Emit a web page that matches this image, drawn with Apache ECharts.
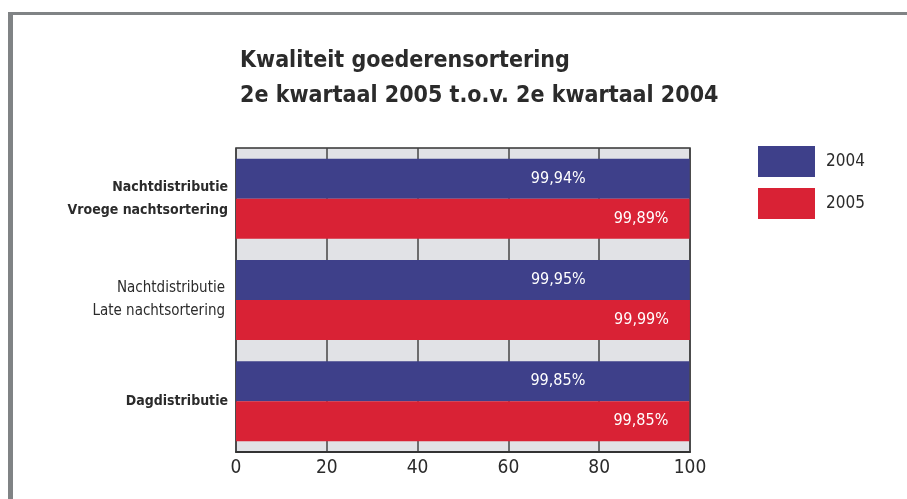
<!DOCTYPE html>
<html>
<head>
<meta charset="utf-8">
<script src="https://cdn.jsdelivr.net/npm/echarts@6/dist/echarts.min.js"></script>
<style>
html,body{margin:0;padding:0;background:#fff;}
#c{width:907px;height:499px;}
</style>
</head>
<body>
<div id="c"></div>
<script>
var categories = ['Nachtdistributie\nVroege nachtsortering', 'Nachtdistributie\nLate nachtsortering', 'Dagdistributie'];
var boldCategory = [true, false, true];
var series2004 = [99.94, 99.95, 99.85];
var series2005 = [99.89, 99.99, 99.85];
var seriesNames = ['2004', '2005'];
var xTicks = [0, 20, 40, 60, 80, 100];

var FONT = '"Liberation Sans Narrow", "DejaVu Sans Condensed", "Liberation Sans", sans-serif';
var chart = echarts.init(document.getElementById('c'), null, {renderer: 'canvas'});
function fmt(v) { return v.toFixed(2).replace('.', ',') + '%'; }
chart.setOption({
  animation: false,
  backgroundColor: '#fff',
  title: {
    text: 'Kwaliteit goederensortering\n2e kwartaal 2005 t.o.v. 2e kwartaal 2004',
    left: 235, top: 39,
    textStyle: {fontFamily: FONT, fontWeight: 'bold', fontSize: 23, lineHeight: 35, color: '#2b2b2b'}
  },
  graphic: [
    {type: 'rect', shape: {x: 8, y: 12, width: 899, height: 3}, style: {fill: '#808385'}},
    {type: 'rect', shape: {x: 8, y: 12, width: 5, height: 487}, style: {fill: '#808385'}}
  ],
  legend: {
    orient: 'vertical', left: 758, top: 146, padding: 0,
    itemWidth: 57, itemHeight: 31, itemGap: 11,
    icon: 'rect',
    textStyle: {fontFamily: FONT, fontSize: 17, color: '#2b2b2b', padding: [0, 0, 0, 6]},
    data: seriesNames
  },
  grid: {
    left: 236, right: 217, top: 148, bottom: 47,
    show: true, backgroundColor: '#e1e2e6', borderColor: '#333', borderWidth: 1.5,
    containLabel: false
  },
  xAxis: {
    type: 'value', min: 0, max: 100, interval: 20,
    axisLine: {show: true, lineStyle: {color: '#333', width: 2}},
    axisTick: {show: false},
    splitLine: {show: true, lineStyle: {color: '#444', width: 1.5}},
    axisLabel: {fontFamily: FONT, fontSize: 19, color: '#2b2b2b', margin: 7,
      formatter: function (v) { return xTicks.indexOf(v) >= 0 ? String(v) : ''; }}
  },
  yAxis: {
    type: 'category', inverse: true, data: categories,
    axisLine: {show: false}, axisTick: {show: false}, splitLine: {show: false},
    axisLabel: {
      margin: 8,
      formatter: function (v, i) {
        var st = boldCategory[i] ? 'b' : 'n';
        return v.split('\n').map(function (s) { return '{' + st + '|' + s + '}'; }).join('\n');
      },
      rich: {
        b: {fontFamily: FONT, fontWeight: 'bold', fontSize: 14, lineHeight: 23, color: '#2b2b2b', align: 'right'},
        n: {fontFamily: FONT, fontWeight: 'normal', fontSize: 15, lineHeight: 23, color: '#2b2b2b', align: 'right', padding: [0, 3, 0, 0]}
      }
    }
  },
  series: [
    {name: seriesNames[0], type: 'bar', data: series2004, barWidth: 40, barGap: '0%',
      itemStyle: {color: '#3e408a'},
      label: {show: true, position: 'insideRight', distance: 104, color: '#fff',
        fontFamily: FONT, fontSize: 16, formatter: function (p) { return fmt(p.value); }}},
    {name: seriesNames[1], type: 'bar', data: series2005, barWidth: 40, barGap: '0%',
      itemStyle: {color: '#d92235'},
      label: {show: true, position: 'insideRight', distance: 21, color: '#fff',
        fontFamily: FONT, fontSize: 16, formatter: function (p) { return fmt(p.value); }}}
  ]
});
</script>
</body>
</html>
